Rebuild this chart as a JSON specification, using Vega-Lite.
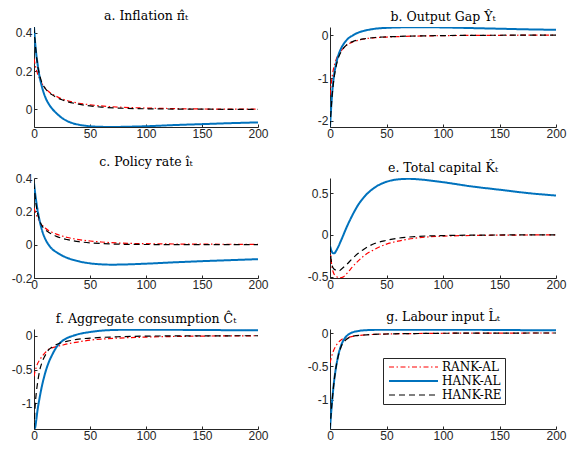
{
  "$schema": "https://vega.github.io/schema/vega-lite/v6.json",
  "background": "white",
  "padding": {"left": 11, "top": 10, "right": 4, "bottom": 4},
  "datasets": {
    "irf": [
      {"p":"a","m":"RANK-AL","t":0,"v":0.265},{"p":"a","m":"RANK-AL","t":1,"v":0.235},{"p":"a","m":"RANK-AL","t":2,"v":0.21},{"p":"a","m":"RANK-AL","t":3,"v":0.19},{"p":"a","m":"RANK-AL","t":5,"v":0.16},{"p":"a","m":"RANK-AL","t":7,"v":0.135},{"p":"a","m":"RANK-AL","t":10,"v":0.11},{"p":"a","m":"RANK-AL","t":13,"v":0.093},{"p":"a","m":"RANK-AL","t":16,"v":0.08},{"p":"a","m":"RANK-AL","t":20,"v":0.068},{"p":"a","m":"RANK-AL","t":25,"v":0.055},{"p":"a","m":"RANK-AL","t":30,"v":0.045},{"p":"a","m":"RANK-AL","t":40,"v":0.032},{"p":"a","m":"RANK-AL","t":50,"v":0.024},{"p":"a","m":"RANK-AL","t":60,"v":0.018},{"p":"a","m":"RANK-AL","t":75,"v":0.012},{"p":"a","m":"RANK-AL","t":100,"v":0.007},{"p":"a","m":"RANK-AL","t":125,"v":0.004},{"p":"a","m":"RANK-AL","t":150,"v":0.002},{"p":"a","m":"RANK-AL","t":200,"v":0.001},
      {"p":"a","m":"HANK-AL","t":0,"v":0.43},{"p":"a","m":"HANK-AL","t":1,"v":0.35},{"p":"a","m":"HANK-AL","t":2,"v":0.29},{"p":"a","m":"HANK-AL","t":3,"v":0.245},{"p":"a","m":"HANK-AL","t":4,"v":0.205},{"p":"a","m":"HANK-AL","t":5,"v":0.17},{"p":"a","m":"HANK-AL","t":7,"v":0.12},{"p":"a","m":"HANK-AL","t":10,"v":0.065},{"p":"a","m":"HANK-AL","t":13,"v":0.03},{"p":"a","m":"HANK-AL","t":16,"v":0.005},{"p":"a","m":"HANK-AL","t":20,"v":-0.02},{"p":"a","m":"HANK-AL","t":25,"v":-0.045},{"p":"a","m":"HANK-AL","t":30,"v":-0.062},{"p":"a","m":"HANK-AL","t":35,"v":-0.073},{"p":"a","m":"HANK-AL","t":40,"v":-0.08},{"p":"a","m":"HANK-AL","t":50,"v":-0.088},{"p":"a","m":"HANK-AL","t":60,"v":-0.091},{"p":"a","m":"HANK-AL","t":70,"v":-0.092},{"p":"a","m":"HANK-AL","t":80,"v":-0.091},{"p":"a","m":"HANK-AL","t":100,"v":-0.088},{"p":"a","m":"HANK-AL","t":125,"v":-0.082},{"p":"a","m":"HANK-AL","t":150,"v":-0.077},{"p":"a","m":"HANK-AL","t":175,"v":-0.072},{"p":"a","m":"HANK-AL","t":200,"v":-0.068},
      {"p":"a","m":"HANK-RE","t":0,"v":0.43},{"p":"a","m":"HANK-RE","t":1,"v":0.35},{"p":"a","m":"HANK-RE","t":2,"v":0.29},{"p":"a","m":"HANK-RE","t":3,"v":0.24},{"p":"a","m":"HANK-RE","t":5,"v":0.18},{"p":"a","m":"HANK-RE","t":7,"v":0.14},{"p":"a","m":"HANK-RE","t":10,"v":0.11},{"p":"a","m":"HANK-RE","t":13,"v":0.09},{"p":"a","m":"HANK-RE","t":16,"v":0.077},{"p":"a","m":"HANK-RE","t":20,"v":0.063},{"p":"a","m":"HANK-RE","t":25,"v":0.05},{"p":"a","m":"HANK-RE","t":30,"v":0.04},{"p":"a","m":"HANK-RE","t":40,"v":0.027},{"p":"a","m":"HANK-RE","t":50,"v":0.018},{"p":"a","m":"HANK-RE","t":60,"v":0.012},{"p":"a","m":"HANK-RE","t":75,"v":0.007},{"p":"a","m":"HANK-RE","t":100,"v":0.003},{"p":"a","m":"HANK-RE","t":150,"v":0.001},{"p":"a","m":"HANK-RE","t":200,"v":0},

      {"p":"b","m":"RANK-AL","t":0,"v":-1.4},{"p":"b","m":"RANK-AL","t":1,"v":-1.15},{"p":"b","m":"RANK-AL","t":2,"v":-0.95},{"p":"b","m":"RANK-AL","t":3,"v":-0.8},{"p":"b","m":"RANK-AL","t":5,"v":-0.6},{"p":"b","m":"RANK-AL","t":7,"v":-0.47},{"p":"b","m":"RANK-AL","t":10,"v":-0.36},{"p":"b","m":"RANK-AL","t":13,"v":-0.27},{"p":"b","m":"RANK-AL","t":16,"v":-0.21},{"p":"b","m":"RANK-AL","t":20,"v":-0.16},{"p":"b","m":"RANK-AL","t":25,"v":-0.12},{"p":"b","m":"RANK-AL","t":30,"v":-0.09},{"p":"b","m":"RANK-AL","t":40,"v":-0.06},{"p":"b","m":"RANK-AL","t":50,"v":-0.045},{"p":"b","m":"RANK-AL","t":60,"v":-0.035},{"p":"b","m":"RANK-AL","t":75,"v":-0.022},{"p":"b","m":"RANK-AL","t":100,"v":-0.012},{"p":"b","m":"RANK-AL","t":125,"v":-0.006},{"p":"b","m":"RANK-AL","t":150,"v":-0.003},{"p":"b","m":"RANK-AL","t":200,"v":0},
      {"p":"b","m":"HANK-AL","t":0,"v":-2.14},{"p":"b","m":"HANK-AL","t":1,"v":-1.7},{"p":"b","m":"HANK-AL","t":2,"v":-1.32},{"p":"b","m":"HANK-AL","t":3,"v":-1.05},{"p":"b","m":"HANK-AL","t":5,"v":-0.72},{"p":"b","m":"HANK-AL","t":7,"v":-0.5},{"p":"b","m":"HANK-AL","t":10,"v":-0.3},{"p":"b","m":"HANK-AL","t":13,"v":-0.17},{"p":"b","m":"HANK-AL","t":16,"v":-0.08},{"p":"b","m":"HANK-AL","t":20,"v":-0.01},{"p":"b","m":"HANK-AL","t":25,"v":0.06},{"p":"b","m":"HANK-AL","t":30,"v":0.1},{"p":"b","m":"HANK-AL","t":40,"v":0.15},{"p":"b","m":"HANK-AL","t":50,"v":0.17},{"p":"b","m":"HANK-AL","t":60,"v":0.18},{"p":"b","m":"HANK-AL","t":75,"v":0.185},{"p":"b","m":"HANK-AL","t":100,"v":0.18},{"p":"b","m":"HANK-AL","t":125,"v":0.165},{"p":"b","m":"HANK-AL","t":150,"v":0.15},{"p":"b","m":"HANK-AL","t":175,"v":0.135},{"p":"b","m":"HANK-AL","t":200,"v":0.125},
      {"p":"b","m":"HANK-RE","t":0,"v":-2.14},{"p":"b","m":"HANK-RE","t":1,"v":-1.72},{"p":"b","m":"HANK-RE","t":2,"v":-1.38},{"p":"b","m":"HANK-RE","t":3,"v":-1.12},{"p":"b","m":"HANK-RE","t":5,"v":-0.78},{"p":"b","m":"HANK-RE","t":7,"v":-0.56},{"p":"b","m":"HANK-RE","t":10,"v":-0.38},{"p":"b","m":"HANK-RE","t":13,"v":-0.27},{"p":"b","m":"HANK-RE","t":16,"v":-0.2},{"p":"b","m":"HANK-RE","t":20,"v":-0.15},{"p":"b","m":"HANK-RE","t":25,"v":-0.11},{"p":"b","m":"HANK-RE","t":30,"v":-0.085},{"p":"b","m":"HANK-RE","t":40,"v":-0.055},{"p":"b","m":"HANK-RE","t":50,"v":-0.04},{"p":"b","m":"HANK-RE","t":60,"v":-0.03},{"p":"b","m":"HANK-RE","t":75,"v":-0.02},{"p":"b","m":"HANK-RE","t":100,"v":-0.01},{"p":"b","m":"HANK-RE","t":125,"v":-0.005},{"p":"b","m":"HANK-RE","t":150,"v":-0.002},{"p":"b","m":"HANK-RE","t":200,"v":0},

      {"p":"c","m":"RANK-AL","t":0,"v":0.22},{"p":"c","m":"RANK-AL","t":1,"v":0.2},{"p":"c","m":"RANK-AL","t":2,"v":0.18},{"p":"c","m":"RANK-AL","t":3,"v":0.165},{"p":"c","m":"RANK-AL","t":5,"v":0.14},{"p":"c","m":"RANK-AL","t":7,"v":0.12},{"p":"c","m":"RANK-AL","t":10,"v":0.1},{"p":"c","m":"RANK-AL","t":13,"v":0.085},{"p":"c","m":"RANK-AL","t":16,"v":0.075},{"p":"c","m":"RANK-AL","t":20,"v":0.063},{"p":"c","m":"RANK-AL","t":25,"v":0.052},{"p":"c","m":"RANK-AL","t":30,"v":0.043},{"p":"c","m":"RANK-AL","t":40,"v":0.03},{"p":"c","m":"RANK-AL","t":50,"v":0.022},{"p":"c","m":"RANK-AL","t":60,"v":0.016},{"p":"c","m":"RANK-AL","t":75,"v":0.01},{"p":"c","m":"RANK-AL","t":100,"v":0.006},{"p":"c","m":"RANK-AL","t":125,"v":0.004},{"p":"c","m":"RANK-AL","t":150,"v":0.003},{"p":"c","m":"RANK-AL","t":200,"v":0.002},
      {"p":"c","m":"HANK-AL","t":0,"v":0.37},{"p":"c","m":"HANK-AL","t":1,"v":0.31},{"p":"c","m":"HANK-AL","t":2,"v":0.26},{"p":"c","m":"HANK-AL","t":3,"v":0.215},{"p":"c","m":"HANK-AL","t":5,"v":0.145},{"p":"c","m":"HANK-AL","t":7,"v":0.09},{"p":"c","m":"HANK-AL","t":10,"v":0.035},{"p":"c","m":"HANK-AL","t":13,"v":0},{"p":"c","m":"HANK-AL","t":16,"v":-0.025},{"p":"c","m":"HANK-AL","t":20,"v":-0.045},{"p":"c","m":"HANK-AL","t":25,"v":-0.065},{"p":"c","m":"HANK-AL","t":30,"v":-0.08},{"p":"c","m":"HANK-AL","t":40,"v":-0.1},{"p":"c","m":"HANK-AL","t":50,"v":-0.112},{"p":"c","m":"HANK-AL","t":60,"v":-0.118},{"p":"c","m":"HANK-AL","t":70,"v":-0.12},{"p":"c","m":"HANK-AL","t":80,"v":-0.119},{"p":"c","m":"HANK-AL","t":100,"v":-0.114},{"p":"c","m":"HANK-AL","t":125,"v":-0.106},{"p":"c","m":"HANK-AL","t":150,"v":-0.099},{"p":"c","m":"HANK-AL","t":175,"v":-0.093},{"p":"c","m":"HANK-AL","t":200,"v":-0.087},
      {"p":"c","m":"HANK-RE","t":0,"v":0.37},{"p":"c","m":"HANK-RE","t":1,"v":0.29},{"p":"c","m":"HANK-RE","t":2,"v":0.235},{"p":"c","m":"HANK-RE","t":3,"v":0.195},{"p":"c","m":"HANK-RE","t":5,"v":0.145},{"p":"c","m":"HANK-RE","t":7,"v":0.115},{"p":"c","m":"HANK-RE","t":10,"v":0.09},{"p":"c","m":"HANK-RE","t":13,"v":0.075},{"p":"c","m":"HANK-RE","t":16,"v":0.063},{"p":"c","m":"HANK-RE","t":20,"v":0.05},{"p":"c","m":"HANK-RE","t":25,"v":0.038},{"p":"c","m":"HANK-RE","t":30,"v":0.03},{"p":"c","m":"HANK-RE","t":40,"v":0.018},{"p":"c","m":"HANK-RE","t":50,"v":0.011},{"p":"c","m":"HANK-RE","t":60,"v":0.007},{"p":"c","m":"HANK-RE","t":75,"v":0.003},{"p":"c","m":"HANK-RE","t":100,"v":0.001},{"p":"c","m":"HANK-RE","t":150,"v":0},{"p":"c","m":"HANK-RE","t":200,"v":0},

      {"p":"e","m":"RANK-AL","t":0,"v":-0.15},{"p":"e","m":"RANK-AL","t":1,"v":-0.3},{"p":"e","m":"RANK-AL","t":2,"v":-0.4},{"p":"e","m":"RANK-AL","t":3,"v":-0.45},{"p":"e","m":"RANK-AL","t":5,"v":-0.49},{"p":"e","m":"RANK-AL","t":8,"v":-0.51},{"p":"e","m":"RANK-AL","t":10,"v":-0.51},{"p":"e","m":"RANK-AL","t":12,"v":-0.5},{"p":"e","m":"RANK-AL","t":15,"v":-0.46},{"p":"e","m":"RANK-AL","t":20,"v":-0.38},{"p":"e","m":"RANK-AL","t":25,"v":-0.31},{"p":"e","m":"RANK-AL","t":30,"v":-0.25},{"p":"e","m":"RANK-AL","t":40,"v":-0.17},{"p":"e","m":"RANK-AL","t":50,"v":-0.11},{"p":"e","m":"RANK-AL","t":60,"v":-0.075},{"p":"e","m":"RANK-AL","t":75,"v":-0.04},{"p":"e","m":"RANK-AL","t":100,"v":-0.015},{"p":"e","m":"RANK-AL","t":150,"v":-0.003},{"p":"e","m":"RANK-AL","t":200,"v":0},
      {"p":"e","m":"HANK-AL","t":0,"v":-0.13},{"p":"e","m":"HANK-AL","t":1,"v":-0.18},{"p":"e","m":"HANK-AL","t":2,"v":-0.21},{"p":"e","m":"HANK-AL","t":3,"v":-0.22},{"p":"e","m":"HANK-AL","t":4,"v":-0.22},{"p":"e","m":"HANK-AL","t":5,"v":-0.2},{"p":"e","m":"HANK-AL","t":7,"v":-0.15},{"p":"e","m":"HANK-AL","t":10,"v":-0.06},{"p":"e","m":"HANK-AL","t":15,"v":0.1},{"p":"e","m":"HANK-AL","t":20,"v":0.24},{"p":"e","m":"HANK-AL","t":25,"v":0.36},{"p":"e","m":"HANK-AL","t":30,"v":0.45},{"p":"e","m":"HANK-AL","t":40,"v":0.57},{"p":"e","m":"HANK-AL","t":50,"v":0.635},{"p":"e","m":"HANK-AL","t":60,"v":0.663},{"p":"e","m":"HANK-AL","t":70,"v":0.67},{"p":"e","m":"HANK-AL","t":80,"v":0.662},{"p":"e","m":"HANK-AL","t":100,"v":0.63},{"p":"e","m":"HANK-AL","t":125,"v":0.58},{"p":"e","m":"HANK-AL","t":150,"v":0.54},{"p":"e","m":"HANK-AL","t":175,"v":0.5},{"p":"e","m":"HANK-AL","t":200,"v":0.47},
      {"p":"e","m":"HANK-RE","t":0,"v":-0.13},{"p":"e","m":"HANK-RE","t":1,"v":-0.3},{"p":"e","m":"HANK-RE","t":2,"v":-0.37},{"p":"e","m":"HANK-RE","t":3,"v":-0.4},{"p":"e","m":"HANK-RE","t":5,"v":-0.42},{"p":"e","m":"HANK-RE","t":8,"v":-0.43},{"p":"e","m":"HANK-RE","t":10,"v":-0.41},{"p":"e","m":"HANK-RE","t":15,"v":-0.35},{"p":"e","m":"HANK-RE","t":20,"v":-0.28},{"p":"e","m":"HANK-RE","t":25,"v":-0.22},{"p":"e","m":"HANK-RE","t":30,"v":-0.17},{"p":"e","m":"HANK-RE","t":40,"v":-0.1},{"p":"e","m":"HANK-RE","t":50,"v":-0.065},{"p":"e","m":"HANK-RE","t":60,"v":-0.04},{"p":"e","m":"HANK-RE","t":75,"v":-0.02},{"p":"e","m":"HANK-RE","t":100,"v":-0.008},{"p":"e","m":"HANK-RE","t":150,"v":-0.001},{"p":"e","m":"HANK-RE","t":200,"v":0},

      {"p":"f","m":"RANK-AL","t":0,"v":-0.6},{"p":"f","m":"RANK-AL","t":1,"v":-0.52},{"p":"f","m":"RANK-AL","t":2,"v":-0.47},{"p":"f","m":"RANK-AL","t":3,"v":-0.42},{"p":"f","m":"RANK-AL","t":5,"v":-0.36},{"p":"f","m":"RANK-AL","t":7,"v":-0.31},{"p":"f","m":"RANK-AL","t":10,"v":-0.25},{"p":"f","m":"RANK-AL","t":13,"v":-0.2},{"p":"f","m":"RANK-AL","t":16,"v":-0.18},{"p":"f","m":"RANK-AL","t":20,"v":-0.16},{"p":"f","m":"RANK-AL","t":25,"v":-0.14},{"p":"f","m":"RANK-AL","t":30,"v":-0.12},{"p":"f","m":"RANK-AL","t":40,"v":-0.09},{"p":"f","m":"RANK-AL","t":50,"v":-0.065},{"p":"f","m":"RANK-AL","t":60,"v":-0.05},{"p":"f","m":"RANK-AL","t":75,"v":-0.035},{"p":"f","m":"RANK-AL","t":100,"v":-0.02},{"p":"f","m":"RANK-AL","t":150,"v":-0.005},{"p":"f","m":"RANK-AL","t":200,"v":0},
      {"p":"f","m":"HANK-AL","t":0,"v":-1.38},{"p":"f","m":"HANK-AL","t":1,"v":-1.36},{"p":"f","m":"HANK-AL","t":2,"v":-1.25},{"p":"f","m":"HANK-AL","t":3,"v":-1.12},{"p":"f","m":"HANK-AL","t":5,"v":-0.92},{"p":"f","m":"HANK-AL","t":7,"v":-0.75},{"p":"f","m":"HANK-AL","t":10,"v":-0.55},{"p":"f","m":"HANK-AL","t":13,"v":-0.4},{"p":"f","m":"HANK-AL","t":16,"v":-0.29},{"p":"f","m":"HANK-AL","t":20,"v":-0.17},{"p":"f","m":"HANK-AL","t":25,"v":-0.08},{"p":"f","m":"HANK-AL","t":30,"v":-0.03},{"p":"f","m":"HANK-AL","t":35,"v":0},{"p":"f","m":"HANK-AL","t":40,"v":0.025},{"p":"f","m":"HANK-AL","t":50,"v":0.055},{"p":"f","m":"HANK-AL","t":60,"v":0.075},{"p":"f","m":"HANK-AL","t":75,"v":0.087},{"p":"f","m":"HANK-AL","t":100,"v":0.09},{"p":"f","m":"HANK-AL","t":150,"v":0.085},{"p":"f","m":"HANK-AL","t":200,"v":0.08},
      {"p":"f","m":"HANK-RE","t":0,"v":-1.38},{"p":"f","m":"HANK-RE","t":1,"v":-1.05},{"p":"f","m":"HANK-RE","t":2,"v":-0.85},{"p":"f","m":"HANK-RE","t":3,"v":-0.72},{"p":"f","m":"HANK-RE","t":5,"v":-0.52},{"p":"f","m":"HANK-RE","t":7,"v":-0.4},{"p":"f","m":"HANK-RE","t":10,"v":-0.29},{"p":"f","m":"HANK-RE","t":13,"v":-0.21},{"p":"f","m":"HANK-RE","t":16,"v":-0.17},{"p":"f","m":"HANK-RE","t":20,"v":-0.13},{"p":"f","m":"HANK-RE","t":25,"v":-0.1},{"p":"f","m":"HANK-RE","t":30,"v":-0.08},{"p":"f","m":"HANK-RE","t":40,"v":-0.05},{"p":"f","m":"HANK-RE","t":50,"v":-0.035},{"p":"f","m":"HANK-RE","t":75,"v":-0.015},{"p":"f","m":"HANK-RE","t":100,"v":-0.005},{"p":"f","m":"HANK-RE","t":150,"v":-0.001},{"p":"f","m":"HANK-RE","t":200,"v":0},

      {"p":"g","m":"RANK-AL","t":0,"v":-0.45},{"p":"g","m":"RANK-AL","t":1,"v":-0.38},{"p":"g","m":"RANK-AL","t":2,"v":-0.32},{"p":"g","m":"RANK-AL","t":3,"v":-0.27},{"p":"g","m":"RANK-AL","t":5,"v":-0.2},{"p":"g","m":"RANK-AL","t":7,"v":-0.15},{"p":"g","m":"RANK-AL","t":10,"v":-0.1},{"p":"g","m":"RANK-AL","t":15,"v":-0.07},{"p":"g","m":"RANK-AL","t":20,"v":-0.05},{"p":"g","m":"RANK-AL","t":30,"v":-0.03},{"p":"g","m":"RANK-AL","t":50,"v":-0.015},{"p":"g","m":"RANK-AL","t":75,"v":-0.008},{"p":"g","m":"RANK-AL","t":100,"v":-0.004},{"p":"g","m":"RANK-AL","t":150,"v":-0.001},{"p":"g","m":"RANK-AL","t":200,"v":0},
      {"p":"g","m":"HANK-AL","t":0,"v":-1.44},{"p":"g","m":"HANK-AL","t":1,"v":-1.2},{"p":"g","m":"HANK-AL","t":2,"v":-1.0},{"p":"g","m":"HANK-AL","t":3,"v":-0.82},{"p":"g","m":"HANK-AL","t":4,"v":-0.67},{"p":"g","m":"HANK-AL","t":5,"v":-0.55},{"p":"g","m":"HANK-AL","t":7,"v":-0.36},{"p":"g","m":"HANK-AL","t":10,"v":-0.18},{"p":"g","m":"HANK-AL","t":13,"v":-0.08},{"p":"g","m":"HANK-AL","t":15,"v":-0.04},{"p":"g","m":"HANK-AL","t":20,"v":0.01},{"p":"g","m":"HANK-AL","t":25,"v":0.03},{"p":"g","m":"HANK-AL","t":30,"v":0.04},{"p":"g","m":"HANK-AL","t":50,"v":0.05},{"p":"g","m":"HANK-AL","t":100,"v":0.05},{"p":"g","m":"HANK-AL","t":150,"v":0.045},{"p":"g","m":"HANK-AL","t":200,"v":0.04},
      {"p":"g","m":"HANK-RE","t":0,"v":-1.44},{"p":"g","m":"HANK-RE","t":1,"v":-1.2},{"p":"g","m":"HANK-RE","t":2,"v":-1.0},{"p":"g","m":"HANK-RE","t":3,"v":-0.82},{"p":"g","m":"HANK-RE","t":5,"v":-0.55},{"p":"g","m":"HANK-RE","t":7,"v":-0.37},{"p":"g","m":"HANK-RE","t":10,"v":-0.2},{"p":"g","m":"HANK-RE","t":15,"v":-0.09},{"p":"g","m":"HANK-RE","t":20,"v":-0.05},{"p":"g","m":"HANK-RE","t":30,"v":-0.03},{"p":"g","m":"HANK-RE","t":50,"v":-0.015},{"p":"g","m":"HANK-RE","t":75,"v":-0.008},{"p":"g","m":"HANK-RE","t":100,"v":-0.004},{"p":"g","m":"HANK-RE","t":150,"v":-0.001},{"p":"g","m":"HANK-RE","t":200,"v":0}
    ]
  },
  "columns": 2,
  "spacing": {"row": 51, "column": 72},
  "bounds": "flush",
  "resolve": {"scale": {"color": "independent", "strokeDash": "independent", "strokeWidth": "independent"}},
  "concat": [
    {
      "width": 224, "height": 100,
      "title": "a. Inflation π̂ₜ",
      "data": {"name": "irf"},
      "transform": [{"filter": "datum.p === 'a'"}],
      "mark": {"type": "line", "clip": true, "interpolate": "monotone"},
      "encoding": {
        "x": {"field": "t", "type": "quantitative", "scale": {"domain": [0, 200], "nice": false}, "axis": {"values": [0, 50, 100, 150, 200]}},
        "y": {"field": "v", "type": "quantitative", "scale": {"domain": [-0.092, 0.43], "nice": false, "zero": false}, "axis": {"values": [0, 0.2, 0.4]}},
        "color": {"field": "m", "type": "nominal", "scale": {"domain": ["RANK-AL", "HANK-AL", "HANK-RE"], "range": ["#ff0000", "#0072bd", "#000000"]}, "legend": null},
        "strokeDash": {"field": "m", "type": "nominal", "scale": {"domain": ["RANK-AL", "HANK-AL", "HANK-RE"], "range": [[5, 2.5, 1.5, 2.5], [1, 0], [6, 4]]}, "legend": null},
        "strokeWidth": {"field": "m", "type": "nominal", "scale": {"type": "ordinal", "domain": ["RANK-AL", "HANK-AL", "HANK-RE"], "range": [1.2, 2, 1.2]}, "legend": null}
      }
    },
    {
      "width": 226, "height": 100,
      "title": "b. Output Gap Ŷₜ",
      "data": {"name": "irf"},
      "transform": [{"filter": "datum.p === 'b'"}],
      "mark": {"type": "line", "clip": true, "interpolate": "monotone"},
      "encoding": {
        "x": {"field": "t", "type": "quantitative", "scale": {"domain": [0, 200], "nice": false}, "axis": {"values": [0, 50, 100, 150, 200]}},
        "y": {"field": "v", "type": "quantitative", "scale": {"domain": [-2.14, 0.19], "nice": false, "zero": false}, "axis": {"values": [-2, -1, 0]}},
        "color": {"field": "m", "type": "nominal", "scale": {"domain": ["RANK-AL", "HANK-AL", "HANK-RE"], "range": ["#ff0000", "#0072bd", "#000000"]}, "legend": null},
        "strokeDash": {"field": "m", "type": "nominal", "scale": {"domain": ["RANK-AL", "HANK-AL", "HANK-RE"], "range": [[5, 2.5, 1.5, 2.5], [1, 0], [6, 4]]}, "legend": null},
        "strokeWidth": {"field": "m", "type": "nominal", "scale": {"type": "ordinal", "domain": ["RANK-AL", "HANK-AL", "HANK-RE"], "range": [1.2, 2, 1.2]}, "legend": null}
      }
    },
    {
      "width": 224, "height": 100,
      "title": "c. Policy rate îₜ",
      "data": {"name": "irf"},
      "transform": [{"filter": "datum.p === 'c'"}],
      "mark": {"type": "line", "clip": true, "interpolate": "monotone"},
      "encoding": {
        "x": {"field": "t", "type": "quantitative", "scale": {"domain": [0, 200], "nice": false}, "axis": {"values": [0, 50, 100, 150, 200]}},
        "y": {"field": "v", "type": "quantitative", "scale": {"domain": [-0.2, 0.4], "nice": false, "zero": false}, "axis": {"values": [-0.2, 0, 0.2, 0.4]}},
        "color": {"field": "m", "type": "nominal", "scale": {"domain": ["RANK-AL", "HANK-AL", "HANK-RE"], "range": ["#ff0000", "#0072bd", "#000000"]}, "legend": null},
        "strokeDash": {"field": "m", "type": "nominal", "scale": {"domain": ["RANK-AL", "HANK-AL", "HANK-RE"], "range": [[5, 2.5, 1.5, 2.5], [1, 0], [6, 4]]}, "legend": null},
        "strokeWidth": {"field": "m", "type": "nominal", "scale": {"type": "ordinal", "domain": ["RANK-AL", "HANK-AL", "HANK-RE"], "range": [1.2, 2, 1.2]}, "legend": null}
      }
    },
    {
      "width": 226, "height": 100,
      "title": "e. Total capital K̂ₜ",
      "data": {"name": "irf"},
      "transform": [{"filter": "datum.p === 'e'"}],
      "mark": {"type": "line", "clip": true, "interpolate": "monotone"},
      "encoding": {
        "x": {"field": "t", "type": "quantitative", "scale": {"domain": [0, 200], "nice": false}, "axis": {"values": [0, 50, 100, 150, 200]}},
        "y": {"field": "v", "type": "quantitative", "scale": {"domain": [-0.515, 0.68], "nice": false, "zero": false}, "axis": {"values": [-0.5, 0, 0.5]}},
        "color": {"field": "m", "type": "nominal", "scale": {"domain": ["RANK-AL", "HANK-AL", "HANK-RE"], "range": ["#ff0000", "#0072bd", "#000000"]}, "legend": null},
        "strokeDash": {"field": "m", "type": "nominal", "scale": {"domain": ["RANK-AL", "HANK-AL", "HANK-RE"], "range": [[5, 2.5, 1.5, 2.5], [1, 0], [6, 4]]}, "legend": null},
        "strokeWidth": {"field": "m", "type": "nominal", "scale": {"type": "ordinal", "domain": ["RANK-AL", "HANK-AL", "HANK-RE"], "range": [1.2, 2, 1.2]}, "legend": null}
      }
    },
    {
      "width": 224, "height": 100,
      "title": "f. Aggregate consumption Ĉₜ",
      "data": {"name": "irf"},
      "transform": [{"filter": "datum.p === 'f'"}],
      "mark": {"type": "line", "clip": true, "interpolate": "monotone"},
      "encoding": {
        "x": {"field": "t", "type": "quantitative", "scale": {"domain": [0, 200], "nice": false}, "axis": {"values": [0, 50, 100, 150, 200]}},
        "y": {"field": "v", "type": "quantitative", "scale": {"domain": [-1.38, 0.1], "nice": false, "zero": false}, "axis": {"values": [-1, -0.5, 0]}},
        "color": {"field": "m", "type": "nominal", "scale": {"domain": ["RANK-AL", "HANK-AL", "HANK-RE"], "range": ["#ff0000", "#0072bd", "#000000"]}, "legend": null},
        "strokeDash": {"field": "m", "type": "nominal", "scale": {"domain": ["RANK-AL", "HANK-AL", "HANK-RE"], "range": [[5, 2.5, 1.5, 2.5], [1, 0], [6, 4]]}, "legend": null},
        "strokeWidth": {"field": "m", "type": "nominal", "scale": {"type": "ordinal", "domain": ["RANK-AL", "HANK-AL", "HANK-RE"], "range": [1.2, 2, 1.2]}, "legend": null}
      }
    },
    {
      "width": 226, "height": 100,
      "title": "g. Labour input L̂ₜ",
      "data": {"name": "irf"},
      "transform": [{"filter": "datum.p === 'g'"}],
      "mark": {"type": "line", "clip": true, "interpolate": "monotone"},
      "encoding": {
        "x": {"field": "t", "type": "quantitative", "scale": {"domain": [0, 200], "nice": false}, "axis": {"values": [0, 50, 100, 150, 200]}},
        "y": {"field": "v", "type": "quantitative", "scale": {"domain": [-1.44, 0.06], "nice": false, "zero": false}, "axis": {"values": [-1, -0.5, 0]}},
        "color": {"field": "m", "type": "nominal", "scale": {"domain": ["RANK-AL", "HANK-AL", "HANK-RE"], "range": ["#ff0000", "#0072bd", "#000000"]}, "legend": {"title": null}},
        "strokeDash": {"field": "m", "type": "nominal", "scale": {"domain": ["RANK-AL", "HANK-AL", "HANK-RE"], "range": [[5, 2.5, 1.5, 2.5], [1, 0], [6, 4]]}, "legend": {"title": null}},
        "strokeWidth": {"field": "m", "type": "nominal", "scale": {"type": "ordinal", "domain": ["RANK-AL", "HANK-AL", "HANK-RE"], "range": [1.2, 2, 1.2]}, "legend": {"title": null}}
      }
    }
  ],
  "config": {
    "view": {"stroke": null},
    "axis": {
      "grid": false,
      "title": null,
      "domainColor": "#262626",
      "domainWidth": 1,
      "tickColor": "#262626",
      "tickSize": -3,
      "labelColor": "#262626",
      "labelFont": "Liberation Sans",
      "labelFontSize": 12,
      "labelPadding": 4,
      "labelFlush": false,
      "labelOverlap": false,
      "labelExpr": "'' + datum.value"
    },
    "axisY": {"labelPadding": 5},
    "title": {
      "font": "DejaVu Serif",
      "fontSize": 12.5,
      "fontWeight": "normal",
      "color": "#000000",
      "frame": "group",
      "anchor": "middle",
      "offset": 4
    },
    "legend": {
      "orient": "none",
      "legendX": 53,
      "legendY": 29,
      "padding": 3,
      "strokeColor": "#262626",
      "fillColor": "#ffffff",
      "labelFont": "DejaVu Serif",
      "labelFontSize": 12,
      "labelColor": "#000000",
      "symbolType": "M-0.6,0H9.2",
      "symbolSize": 100,
      "labelOffset": 44,
      "rowPadding": 2
    }
  }
}
